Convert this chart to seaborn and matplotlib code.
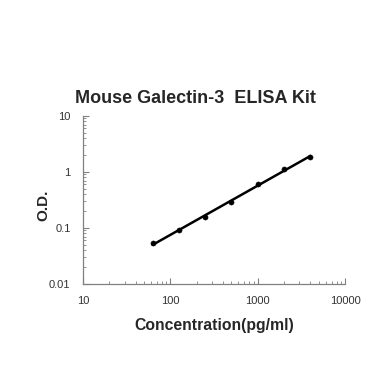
import numpy as np
import pandas as pd
import seaborn as sns
import matplotlib.pyplot as plt
from matplotlib.ticker import FixedLocator, LogLocator, NullFormatter

# standard curve values
concentration = [62.5, 125, 250, 500, 1000, 2000, 4000]
od = [0.053, 0.090, 0.155, 0.295, 0.60, 1.12, 1.85]
x_ticks = [10, 100, 1000, 10000]
x_tick_labels = ["10", "100", "1000", "10000"]
y_ticks = [0.01, 0.1, 1, 10]
y_tick_labels = ["0.01", "0.1", "1", "10"]

sns.set_style("white")
plt.rcParams["font.family"] = ["Liberation Sans", "DejaVu Sans"]

df = pd.DataFrame({"conc": concentration, "od": od})

# straight line fit in log-log space
slope, intercept = np.polyfit(np.log10(df["conc"]), np.log10(df["od"]), 1)
fit_x = np.array([df["conc"].min(), df["conc"].max()])
fit = pd.DataFrame({"conc": fit_x, "od": 10 ** (intercept + slope * np.log10(fit_x))})

fig = plt.figure(figsize=(3.9, 3.9), dpi=100)
ax = fig.add_axes([0.213, 0.272, 0.672, 0.431])

sns.lineplot(data=fit, x="conc", y="od", ax=ax, color="black", linewidth=1.8)
sns.scatterplot(data=df, x="conc", y="od", ax=ax, color="black", s=14,
                edgecolor="black", zorder=3)

ax.set_xscale("log")
ax.set_yscale("log")
ax.set_xlim(10, 10000)
ax.set_ylim(0.01, 10)

ax.xaxis.set_major_locator(FixedLocator(x_ticks))
ax.set_xticklabels(x_tick_labels)
ax.yaxis.set_major_locator(FixedLocator(y_ticks))
ax.set_yticklabels(y_tick_labels)
ax.xaxis.set_minor_locator(LogLocator(base=10, subs=np.arange(2, 10)))
ax.yaxis.set_minor_locator(LogLocator(base=10, subs=np.arange(2, 10)))
ax.xaxis.set_minor_formatter(NullFormatter())
ax.yaxis.set_minor_formatter(NullFormatter())

ax.tick_params(which="both", bottom=True, left=True, direction="in",
               color="#808080", labelsize=8, labelcolor="#333333")
ax.tick_params(which="major", length=4, width=0.8)
ax.tick_params(which="minor", length=2.5, width=0.6)
ax.tick_params(axis="x", pad=9)
ax.tick_params(axis="y", pad=9)

for side in ["top", "right"]:
    ax.spines[side].set_visible(False)
for side in ["left", "bottom"]:
    ax.spines[side].set_color("#808080")
    ax.spines[side].set_linewidth(0.9)

ax.set_xlabel("Concentration(pg/ml)", fontsize=11.3, fontweight="bold", labelpad=8)
ax.set_ylabel("O.D.", fontsize=11, fontweight="bold")
ax.yaxis.set_label_coords(-0.125, 0.47)
fig.suptitle("Mouse Galectin-3  ELISA Kit", x=0.5, y=0.77, fontsize=13,
             fontweight="bold")

fig.savefig("out.png", dpi=100)
